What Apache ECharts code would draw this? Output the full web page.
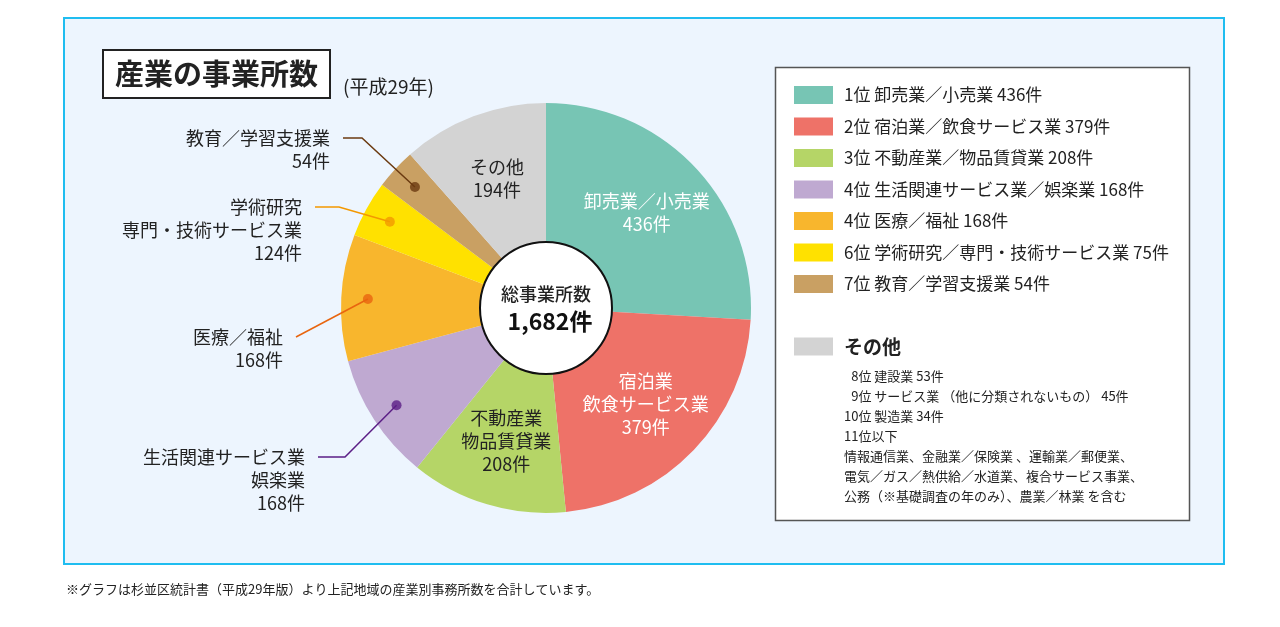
<!DOCTYPE html>
<html lang="ja">
<head>
<meta charset="utf-8">
<title>産業の事業所数</title>
<script src="https://cdn.jsdelivr.net/npm/echarts/dist/echarts.min.js"></script>
<style>
    html, body { margin: 0; padding: 0; background: #fff; }
    #main { width: 1280px; height: 627px; }
</style>
</head>
<body>
<div id="main"></div>
<script>
// 産業分類ごとの事業所数（平成29年）
var categories = ['卸売業／小売業', '宿泊業／飲食サービス業', '不動産業／物品賃貸業', '生活関連サービス業／娯楽業',
    '医療／福祉', '学術研究／専門・技術サービス業', '教育／学習支援業', 'その他'];
var ranks = ['1位', '2位', '3位', '4位', '4位', '6位', '7位', ''];
var counts = [436, 379, 208, 168, 168, 75, 54, 194];
// 円グラフ上のラベル（原図のまま）
var sliceLabels = ['卸売業／小売業\n436件', '宿泊業\n飲食サービス業\n379件', '不動産業\n物品賃貸業\n208件',
    '生活関連サービス業\n娯楽業\n168件', '医療／福祉\n168件', '学術研究\n専門・技術サービス業\n124件',
    '教育／学習支援業\n54件', 'その他\n194件'];
var otherNotes = ['\u20078位 建設業 53件', '\u20079位 サービス業 （他に分類されないもの） 45件', '10位 製造業 34件', '11位以下',
    '情報通信業、金融業／保険業 、運輸業／郵便業、', '電気／ガス／熱供給／水道業、複合サービス事業、',
    '公務（※基礎調査の年のみ）、農業／林業 を含む'];

var colors = ['#77c5b4', '#ee7268', '#b5d567', '#bfa9d1', '#f8b62d', '#ffe100', '#c9a063', '#d3d3d3'];
var textColors = ['#fff', '#fff', '#222', '#222', '#222', '#222', '#222', '#222'];
var outsideIdx = [3, 4, 5, 6];
var leaderColors = ['#5b1e86', '#e8650f', '#f39800', '#6b3a10'];
// 引き出しラベルの位置（右端x, 1行目の中心y）と水平線の長さ
var labelAnchors = [[305, 457], [283, 337], [302, 207], [330, 138]];
var leaderRun = [27, 0, 24, 19];
var dotRadius = 0.87;

var font = '"Noto Sans CJK JP", "Noto Sans", sans-serif';
var center = [546, 308];
var total = counts.reduce(function (a, b) { return a + b; }, 0);

// 各扇形の中央値（角度軸上の位置）
var midValues = [];
var acc = 0;
counts.forEach(function (v) { midValues.push(acc + v / 2); acc += v; });

var chart = echarts.init(document.getElementById('main'));

var option = {
    animation: false,
    textStyle: { fontFamily: font },
    title: [
        {
            text: '産業の事業所数', left: 103, top: 50, padding: [8, 12],
            borderColor: '#222', borderWidth: 2, backgroundColor: '#fff',
            textStyle: { fontSize: 29, fontWeight: 'bold', color: '#222', lineHeight: 32, fontFamily: font }
        },
        {
            text: '(平成29年)', left: 343, top: 77, padding: 0,
            textStyle: { fontSize: 19, fontWeight: 'normal', color: '#222', fontFamily: font }
        },
        {
            text: '※グラフは杉並区統計書（平成29年版）より上記地域の産業別事務所数を合計しています。',
            left: 66, top: 583, padding: 0,
            textStyle: { fontSize: 13, fontWeight: 'normal', color: '#222', fontFamily: font }
        }
    ],
    graphic: [
        {
            type: 'rect', z: -10,
            shape: { x: 64, y: 18, width: 1160, height: 546 },
            style: { fill: '#edf5fe', stroke: '#1fbdf0', lineWidth: 2 }
        },
        {
            type: 'rect', z: -9,
            shape: { x: 775.5, y: 67.5, width: 414, height: 453 },
            style: { fill: '#fff', stroke: '#555', lineWidth: 1.5 }
        },
        {
            type: 'text', z: 5, x: 844, y: 366,
            style: { text: otherNotes.join('\n'), font: '13px ' + font, lineHeight: 20, fill: '#222' }
        }
    ],
    legend: [
        {
            orient: 'vertical', left: 794, top: 86, padding: 0,
            itemWidth: 39, itemHeight: 18, itemGap: 13.5, icon: 'rect',
            selectedMode: false,
            data: categories.slice(0, 7),
            formatter: function (name) {
                var i = categories.indexOf(name);
                return ranks[i] + ' ' + name + ' ' + counts[i] + '件';
            },
            textStyle: { fontSize: 17, lineHeight: 18, color: '#222', padding: [0, 0, 0, 6], fontFamily: font }
        },
        {
            orient: 'vertical', left: 794, top: 337, padding: 0,
            itemWidth: 39, itemHeight: 18, icon: 'rect',
            selectedMode: false,
            data: ['その他'],
            textStyle: { fontSize: 19, fontWeight: 'bold', lineHeight: 18, color: '#222', padding: [0, 0, 0, 6], fontFamily: font }
        }
    ],
    polar: { center: center, radius: 205 },
    angleAxis: {
        type: 'value', min: 0, max: total, startAngle: 90, clockwise: true,
        show: false, axisLine: { show: false }, splitLine: { show: false }, axisLabel: { show: false }, axisTick: { show: false }
    },
    radiusAxis: {
        type: 'value', min: 0, max: 1,
        show: false, axisLine: { show: false }, splitLine: { show: false }, axisLabel: { show: false }, axisTick: { show: false }
    },
    series: [
        {
            // 扇形と内側ラベル
            name: '産業', type: 'pie', center: center, radius: [66, 205],
            startAngle: 90, clockwise: true, avoidLabelOverlap: false,
            silent: true, z: 2,
            label: { position: 'inside', fontSize: 18, lineHeight: 23, fontFamily: font },
            labelLine: { show: false },
            data: categories.map(function (name, i) {
                return {
                    name: name, value: counts[i],
                    itemStyle: { color: colors[i] },
                    label: {
                        show: outsideIdx.indexOf(i) < 0,
                        formatter: sliceLabels[i], color: textColors[i]
                    }
                };
            })
        },
        {
            // 引き出し線と外側ラベル（扇形は透明、線を扇形の上に描く）
            name: '引き出しラベル', type: 'pie', center: center, radius: [66, 205],
            startAngle: 90, clockwise: true, avoidLabelOverlap: false,
            silent: true, z: 3, legendHoverLink: false,
            itemStyle: { color: 'rgba(0,0,0,0)' },
            label: { position: 'outside', fontSize: 18, lineHeight: 23, color: '#222', align: 'right', fontFamily: font },
            labelLayout: function (params) {
                var k = outsideIdx.indexOf(params.dataIndex);
                if (k < 0) {
                    return {};
                }
                var a = labelAnchors[k];
                // 点の位置は極座標（扇形の中央値）から求める
                var dot = chart.convertToPixel({ polarIndex: 0 }, [dotRadius, midValues[params.dataIndex]]);
                return {
                    x: a[0], y: a[1] - 11.5, align: 'right', verticalAlign: 'top',
                    labelLinePoints: [dot, [a[0] + 13 + leaderRun[k], a[1]], [a[0] + 13, a[1]]]
                };
            },
            data: categories.map(function (name, i) {
                var k = outsideIdx.indexOf(i);
                var outside = k >= 0;
                return {
                    name: name + ' ', value: counts[i],
                    label: { show: outside, formatter: sliceLabels[i] },
                    labelLine: outside
                        ? { show: true, smooth: false, lineStyle: { color: leaderColors[k], width: 1.5 } }
                        : { show: false }
                };
            })
        },
        {
            name: '総事業所数', type: 'pie', center: center, radius: [0, 66],
            silent: true, z: 4,
            itemStyle: { color: '#fff', borderColor: '#111', borderWidth: 2 },
            label: {
                show: true, position: 'center',
                formatter: '{a|総事業所数}\n{b|' + total.toLocaleString('en-US') + '件}',
                rich: {
                    a: { fontSize: 18, lineHeight: 27, color: '#222', fontWeight: 500, fontFamily: font },
                    b: { fontSize: 23, lineHeight: 27, color: '#111', fontWeight: 'bold', fontFamily: font, padding: [0, 0, 0, 8] }
                }
            },
            labelLine: { show: false },
            data: [{ name: '総事業所数', value: total }]
        },
        {
            name: '引き出し点', type: 'scatter', coordinateSystem: 'polar',
            symbol: 'circle', symbolSize: 10, silent: true, z: 5,
            data: outsideIdx.map(function (i, k) {
                return {
                    name: categories[i],
                    value: [dotRadius, midValues[i]],
                    itemStyle: { color: leaderColors[k] }
                };
            })
        }
    ]
};

chart.setOption(option);
</script>
</body>
</html>
